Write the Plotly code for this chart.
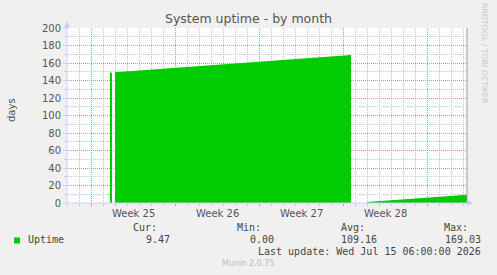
import plotly.graph_objects as go

# ---- data ----
times = [
    "2026-06-16 14:00", "2026-06-16 18:00", "2026-06-16 20:00",
    "2026-06-17 00:00", "2026-06-28 04:00", "2026-07-06 16:00",
    "2026-07-06 18:00",
    "2026-07-08 00:00", "2026-07-16 08:00",
]
uptime = [148.9, 149.1, None, 149.4, 160.6, 169.03, None, 1.14, 9.47]

week_bounds = ["2026-06-15", "2026-06-22", "2026-06-29", "2026-07-06", "2026-07-13"]
week_label_pos = ["2026-06-18 12:00", "2026-06-25 12:00", "2026-07-02 12:00", "2026-07-09 12:00"]
week_labels = ["Week 25", "Week 26", "Week 27", "Week 28"]
y_ticks = list(range(0, 201, 20))

stat_names = ["Cur:", "Min:", "Avg:", "Max:"]
stat_values = ["9.47", "0.00", "109.16", "169.03"]
series_name = "Uptime"
last_update = "Last update: Wed Jul 15 06:00:00 2026"

X_RANGE = ["2026-06-13 00:00", "2026-07-16 08:00"]
W, H = 497, 275
L, R, T, B = 67, 30, 28, 72
GREEN = "#00CC00"
MAJ = "rgba(230,120,120,0.75)"
MIN = "rgba(190,190,190,0.9)"
AXC = "#CCCCFF"
TXT = "#555555"

# split series into contiguous segments (gaps = None)
segments = []
cur_x, cur_y = [], []
for t, v in zip(times, uptime):
    if v is None:
        if cur_x:
            segments.append((cur_x, cur_y))
        cur_x, cur_y = [], []
    else:
        cur_x.append(t)
        cur_y.append(v)
if cur_x:
    segments.append((cur_x, cur_y))

fig = go.Figure()
for sx, sy in segments:
    fig.add_trace(go.Scatter(
        x=sx, y=sy, mode="lines", fill="tozeroy",
        line=dict(color=GREEN, width=0), fillcolor=GREEN,
        showlegend=False, hoverinfo="skip",
    ))

fig.update_layout(
    width=W, height=H,
    margin=dict(l=L, r=R, t=T, b=B, pad=0),
    paper_bgcolor="#F0F0F0", plot_bgcolor="#FFFFFF",
    font=dict(family="DejaVu Sans", size=10, color=TXT),
    xaxis=dict(
        type="date", range=X_RANGE, tickmode="array", tickvals=week_bounds,
        showticklabels=False, showgrid=True, gridcolor=MAJ, griddash="1px,1px",
        gridwidth=1, ticks="outside", ticklen=2, tickcolor=MAJ,
        zeroline=False, showline=False,
        minor=dict(dtick=86400000, tick0="2026-06-13", showgrid=True,
                   gridcolor=MIN, griddash="1px,1px", gridwidth=1,
                   ticks="outside", ticklen=2, tickcolor=MIN),
    ),
    yaxis=dict(
        range=[0, 200], tickmode="array", tickvals=y_ticks,
        showgrid=True, gridcolor=MAJ, griddash="1px,1px", gridwidth=1,
        ticks="outside", ticklen=3, tickcolor=AXC,
        tickfont=dict(size=10, color=TXT),
        zeroline=False, showline=False,
        minor=dict(dtick=10, showgrid=True, gridcolor=MIN, griddash="1px,1px",
                   gridwidth=1, ticks="outside", ticklen=2, tickcolor=AXC),
    ),
    showlegend=False,
)

PW, PH = W - L - R, H - T - B

# axis lines, arrows, right border
shapes = [
    dict(type="line", xref="paper", yref="paper", x0=0, x1=1.0, y0=0, y1=0,
         line=dict(color=AXC, width=1)),
    dict(type="line", xref="paper", yref="paper", x0=0, x1=0, y0=0, y1=1.0,
         line=dict(color=AXC, width=1)),
    dict(type="line", xref="paper", yref="paper", x0=1, x1=1, y0=0, y1=1,
         line=dict(color="#999999", width=1)),
    dict(type="path", xref="paper", yref="paper",
         path="M 1.0,0.0171 L 1.0,-0.0171 L 1.0175,0 Z",
         fillcolor=AXC, line=dict(width=0)),
    dict(type="path", xref="paper", yref="paper",
         path="M -0.0075,1.0 L 0.0075,1.0 L 0,1.04 Z",
         fillcolor=AXC, line=dict(width=0)),
    dict(type="rect", xref="paper", yref="paper",
         x0=(14 - L) / PW, x1=(20 - L) / PW,
         y0=(H - B - 243.5) / PH, y1=(H - B - 237.5) / PH,
         fillcolor=GREEN, line=dict(width=0)),
]
fig.update_layout(shapes=shapes)

ann = []
ann.append(dict(text="System uptime - by month", xref="paper", yref="paper",
                x=(248.5 - L) / PW, y=1, yshift=10, xanchor="center", yanchor="middle",
                showarrow=False, font=dict(size=12.5, color=TXT)))
for pos, lab in zip(week_label_pos, week_labels):
    ann.append(dict(text=lab, xref="x", yref="paper", x=pos, y=0, yshift=-10,
                    xanchor="center", yanchor="middle", showarrow=False,
                    font=dict(size=10, color=TXT)))
ann.append(dict(text="days", xref="paper", yref="paper", x=0, xshift=-55,
                y=(H - B - 110) / PH, xanchor="center", yanchor="middle", textangle=-90,
                showarrow=False, font=dict(size=10, color=TXT)))
ann.append(dict(text="RRDTOOL / TOBI OETIKER", xref="paper", yref="paper",
                x=1, xshift=18, y=(H - B - 53) / PH, xanchor="center",
                yanchor="middle", textangle=90, showarrow=False,
                font=dict(size=7.8, color="#C8C8C8")))

MONO = "DejaVu Sans Mono"
def px_ann(text, x, y, anchor="right", size=10, color="#444444", family=MONO):
    return dict(text=text, xref="paper", yref="paper",
                x=(x - L) / PW, y=(H - B - y) / PH,
                xanchor=anchor, yanchor="middle", showarrow=False,
                font=dict(size=size, color=color, family=family))

name_right = [159, 263, 367, 470]
val_right = [172, 276, 379, 483]
for n, v, xn, xv in zip(stat_names, stat_values, name_right, val_right):
    ann.append(px_ann(n, xn, 227.5))
    ann.append(px_ann(v, xv, 239.5))
ann.append(px_ann(series_name, 26, 239.5, anchor="left"))
ann.append(px_ann(last_update, 483, 251.5))
ann.append(px_ann("Munin 2.0.75", 248, 263.5, anchor="center", size=8,
                  color="#BBBBBB", family="DejaVu Sans"))
fig.update_layout(annotations=ann)

fig.write_html("out.html")
